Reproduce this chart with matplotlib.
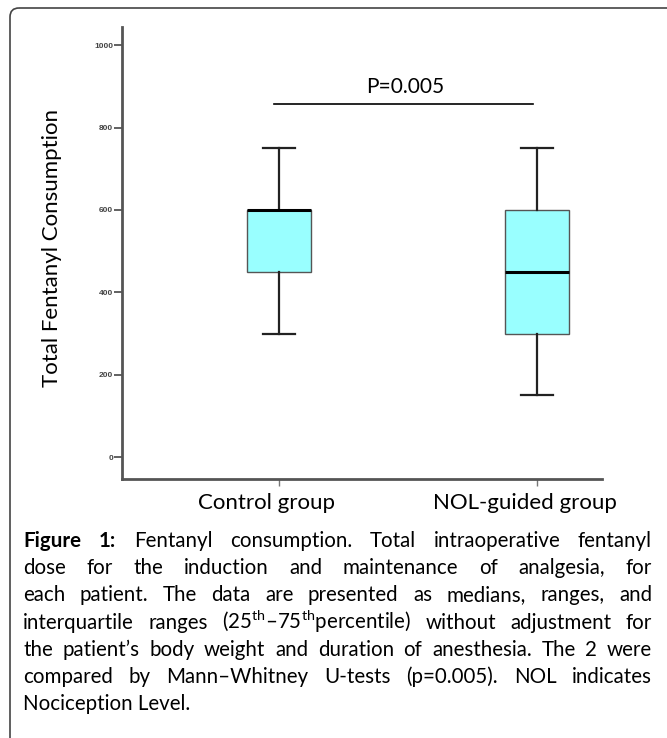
import matplotlib
matplotlib.use("Agg")
import matplotlib.pyplot as plt
from matplotlib.patches import FancyBboxPatch
from matplotlib.transforms import ScaledTranslation

plt.rcParams["font.family"] = ["Lato", "DejaVu Sans"]
plt.rcParams["mathtext.fontset"] = "custom"
plt.rcParams["mathtext.rm"] = "Lato"

# data
groups = ["Control group", "NOL-guided group"]
whisker_low = [300, 150]
q1 = [450, 300]
median = [600, 450]
q3 = [600, 600]
whisker_high = [750, 750]
y_ticks = [0, 200, 400, 600, 800, 1000]
p_text = "P=0.005"
p_level = 858

caption_lines = [
    "Figure 1: Fentanyl consumption. Total intraoperative fentanyl",
    "dose for the induction and maintenance of analgesia, for",
    "each patient. The data are presented as medians, ranges, and",
    r"interquartile ranges (25$^\mathrm{th}$–75$^\mathrm{th}$percentile) without adjustment for",
    "the patient’s body weight and duration of anesthesia. The 2 were",
    "compared by Mann–Whitney U-tests (p=0.005). NOL indicates",
    "Nociception Level.",
]

W, H = 667, 738
fig = plt.figure(figsize=(W / 100, H / 100), dpi=100)

# background layer in pixel coordinates (frame + caption)
bg = fig.add_axes([0, 0, 1, 1], zorder=0)
bg.set_xlim(0, W); bg.set_ylim(H, 0)
bg.axis("off")
bg.add_patch(FancyBboxPatch((10, 8), 700, 760, boxstyle="round,pad=0,rounding_size=9",
                            facecolor="none", edgecolor="#444444", linewidth=1.2))

# box plot
ax = fig.add_axes([122 / W, 1 - 479 / H, 480 / W, 452 / H], zorder=1)
ax.patch.set_alpha(0)
positions = [1, 2]
stats = []
for i, g in enumerate(groups):
    stats.append(dict(label=g, whislo=whisker_low[i], q1=q1[i], med=median[i],
                      q3=q3[i], whishi=whisker_high[i], fliers=[]))
ax.bxp(stats, positions=positions, widths=0.25, patch_artist=True, showfliers=False,
       boxprops=dict(facecolor="#99ffff", edgecolor="#555555", linewidth=1.0),
       medianprops=dict(color="black", linewidth=2.2),
       whiskerprops=dict(color="#222222", linewidth=1.6),
       capprops=dict(color="#222222", linewidth=1.6),
       capwidths=0.125)

ax.set_xlim(0.392, 2.252)
ax.set_ylim(-53, 1044)
ax.set_yticks(y_ticks)
ax.set_yticklabels([str(v) for v in y_ticks], fontsize=6, color="#444444",
                   fontweight="bold", family="Liberation Sans")
ax.tick_params(axis="y", length=6, width=1.3, color="#555555", pad=0.5)
ax.tick_params(axis="x", length=5, width=1.0, color="#777777", pad=5, labelsize=16)
ax.set_xticks(positions)
ax.set_xticklabels(groups)
for lbl in ax.get_xticklabels():
    lbl.set_transform(lbl.get_transform() + ScaledTranslation(-0.12, 0, fig.dpi_scale_trans))
for side in ("top", "right"):
    ax.spines[side].set_visible(False)
for side in ("left", "bottom"):
    ax.spines[side].set_color("#555555")
    ax.spines[side].set_linewidth(2.0)
ax.set_ylabel("Total Fentanyl Consumption", fontsize=16)
ax.yaxis.set_label_coords(-0.125, 0.51)

# significance bar
ax.plot([0.98, 1.985], [p_level, p_level], color="black", linewidth=1.2)
ax.text(1.49, p_level + 16, p_text, ha="center", va="bottom", fontsize=15)

# justified caption, words placed one by one on a shared baseline
renderer = fig.canvas.get_renderer()
x0, x1 = 23, 652
y_first, line_step = 547, 27.2
cap_size = 14.8
for li, line in enumerate(caption_lines):
    y = y_first + li * line_step
    if li == len(caption_lines) - 1:
        bg.text(x0, y, line, fontsize=cap_size, va="baseline", ha="left")
        continue
    items = []
    for wi, w in enumerate(line.split(" ")):
        bold = li == 0 and wi < 2
        t = bg.text(0, y, w, fontsize=cap_size, va="baseline", ha="left",
                    fontweight="bold" if bold else "normal")
        items.append(t)
    widths = [t.get_window_extent(renderer).width for t in items]
    gap = (x1 - x0 - sum(widths)) / (len(items) - 1)
    x = x0
    for t, w in zip(items, widths):
        t.set_x(x)
        x += w + gap

fig.savefig("out.png", dpi=100)
